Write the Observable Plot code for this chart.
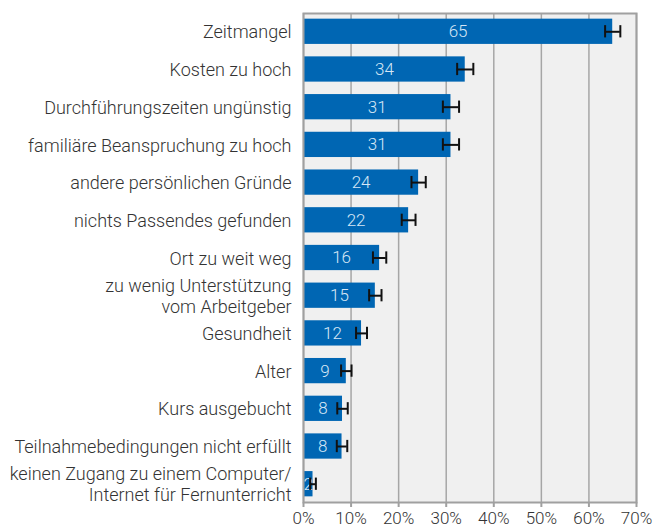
<!DOCTYPE html>
<html>
<head>
<meta charset="utf-8">
<script src="https://cdn.jsdelivr.net/npm/d3@7"></script>
<script src="https://cdn.jsdelivr.net/npm/@observablehq/plot@0.6"></script>
<style>
  html, body { margin: 0; padding: 0; background: #fff; overflow: hidden; }
  #chart { width: 653px; height: 531px; }
  #chart svg { display: block; max-width: none !important; }
</style>
</head>
<body>
<div id="chart"></div>
<script>
const categories = [
  "Zeitmangel",
  "Kosten zu hoch",
  "Durchführungszeiten ungünstig",
  "familiäre Beanspruchung zu hoch",
  "andere persönlichen Gründe",
  "nichts Passendes gefunden",
  "Ort zu weit weg",
  "zu wenig Unterstützung\nvom Arbeitgeber",
  "Gesundheit",
  "Alter",
  "Kurs ausgebucht",
  "Teilnahmebedingungen nicht erfüllt",
  "keinen Zugang zu einem Computer/\nInternet für Fernunterricht"
];
const values = [65, 34, 31, 31, 24.2, 22.1, 16, 15.1, 12.2, 9, 8.2, 8.1, 2];
const errors = [1.6, 1.7, 1.7, 1.7, 1.5, 1.45, 1.4, 1.3, 1.15, 1.1, 1.1, 1.1, 0.6];
const xTicks = [0, 10, 20, 30, 40, 50, 60, 70];

const data = categories.map((c, i) => ({cat: c, value: values[i], err: errors[i], label: String(Math.round(values[i]))}));

const chart = Plot.plot({
  width: 653,
  height: 531,
  marginLeft: 303,
  marginRight: 17,
  marginTop: 13,
  marginBottom: 29,
  style: {fontFamily: "Roboto, 'Noto Sans', sans-serif", fontSize: "17px", color: "#333", background: "#fff"},
  x: {domain: [0, 70], ticks: xTicks, tickFormat: d => d + "%", label: null},
  y: {domain: categories, label: null, paddingInner: 0.33, paddingOuter: 0.15, round: false},
  marks: [
    Plot.frame({fill: "#f0f0f0"}),
    Plot.gridX(xTicks, {stroke: "#a6a6a6", strokeOpacity: 1, strokeWidth: 1.5}),
    Plot.barX(data, {x: "value", y: "cat", fill: "#0066b3"}),
    Plot.text(data, {x: d => d.value / 2, y: "cat", text: "label", fill: "#d6e6f6", fontSize: 17, fontWeight: 300}),
    Plot.ruleY(data, {y: "cat", x1: d => d.value - d.err, x2: d => d.value + d.err, stroke: "#111", strokeWidth: 2}),
    Plot.tickX(data, {x: d => d.value - d.err, y: "cat", stroke: "#111", strokeWidth: 2, insetTop: 6.5, insetBottom: 6.5}),
    Plot.tickX(data, {x: d => d.value + d.err, y: "cat", stroke: "#111", strokeWidth: 2, insetTop: 6.5, insetBottom: 6.5}),
    Plot.frame({stroke: "#a0a0a0", strokeWidth: 2}),
    Plot.axisX({ticks: xTicks, tickFormat: d => d + "%", tickSize: 5, tickPadding: 4, stroke: "#a0a0a0", strokeWidth: 2, fill: "#333", fontSize: 17, fontWeight: 300, label: null}),
    Plot.axisY({tickSize: 0, tickPadding: 12, fill: "#333", fontSize: 18, fontWeight: 300, label: null, lineHeight: 1.15})
  ]
});
document.getElementById("chart").appendChild(chart);
</script>
</body>
</html>
